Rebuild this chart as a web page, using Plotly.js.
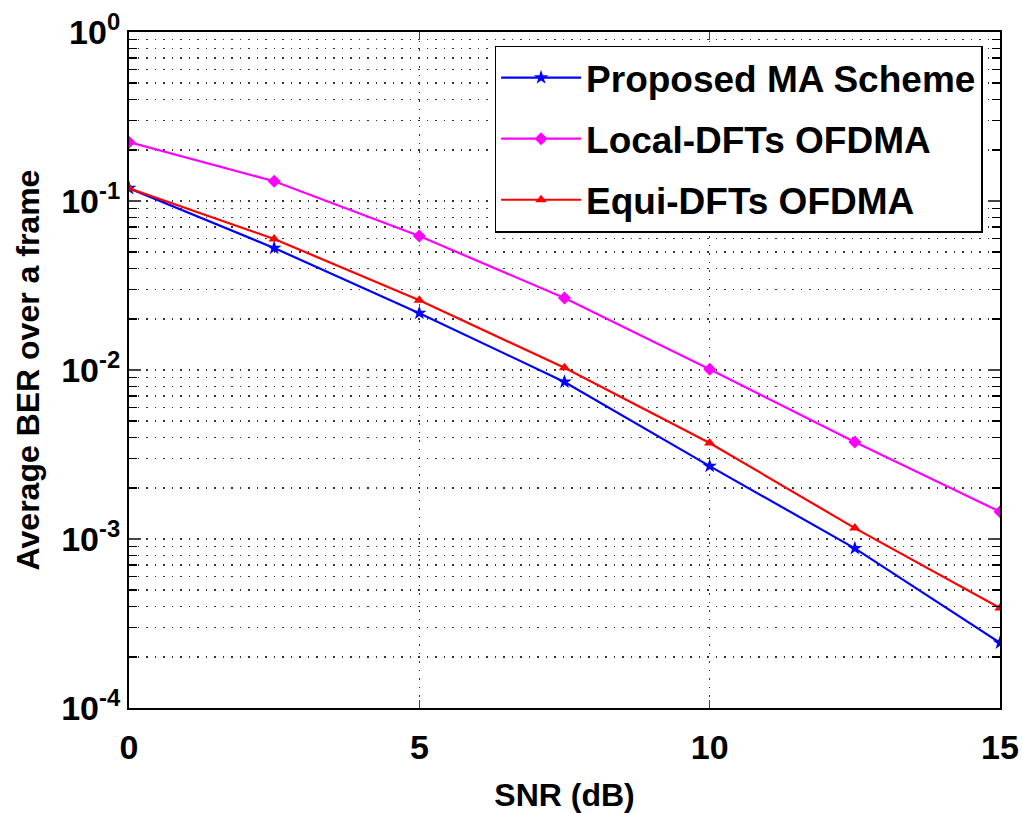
<!DOCTYPE html>
<html>
<head>
<meta charset="utf-8">
<script src="https://cdn.plot.ly/plotly-3.0.1.min.js"></script>
<style>html,body{margin:0;padding:0;background:#fff;}#chart{width:1022px;height:813px;}</style>
</head>
<body>
<div id="chart"></div>
<script>
const snr = [0, 2.5, 5, 7.5, 10, 12.5, 15];
const proposedMA = [0.119, 0.0527, 0.0217, 0.0085, 0.0027, 0.00088, 0.000243];
const localDFT = [0.223, 0.131, 0.062, 0.0267, 0.0101, 0.00375, 0.00145];
const equiDFT = [0.119, 0.0596, 0.0259, 0.0103, 0.0037, 0.00116, 0.00039];
const seriesNames = ['Proposed MA Scheme', 'Local-DFTs OFDMA', 'Equi-DFTs OFDMA'];
const yTickVals = [1e-4, 1e-3, 1e-2, 1e-1, 1];
const yTickText = ['10<sup>-4</sup>', '10<sup>-3</sup>', '10<sup>-2</sup>', '10<sup>-1</sup>', '10<sup>0</sup>'];
const xTickVals = [0, 5, 10, 15];

const font = 'Liberation Sans, Arial, sans-serif';
const traces = [
  {x: snr, y: proposedMA, name: seriesNames[0], legendgroup: 'a', mode: 'lines+markers',
   line: {color: '#0000ff', width: 2.2}, marker: {symbol: 'star', size: 11, color: '#0000ff'}},
  {x: snr, y: localDFT, name: seriesNames[1], legendgroup: 'b', mode: 'lines+markers',
   line: {color: '#ff00ff', width: 2.2}, marker: {symbol: 'diamond', size: 10, color: '#ff00ff'}},
  {x: snr, y: equiDFT, name: seriesNames[2], legendgroup: 'c', mode: 'lines+markers',
   line: {color: '#ff0000', width: 2.2}, marker: {symbol: 'triangle-up', size: 10, color: '#ff0000'}}
];

const gridColor = '#333';
const layout = {
  width: 1022, height: 813,
  margin: {l: 129, r: 22, t: 32, b: 105},
  paper_bgcolor: '#fff', plot_bgcolor: '#fff',
  font: {family: font, color: '#000', size: 30, weight: 'bold'},
  showlegend: true,
  legend: {x: 0.98, y: 0.98, xanchor: 'right', yanchor: 'top',
    bgcolor: '#fff', bordercolor: '#000', borderwidth: 1.5, tracegroupgap: 10, itemwidth: 80,
    font: {family: font, size: 37, color: '#000', weight: 'bold'}},
  xaxis: {
    range: [0, 15], tickvals: xTickVals, ticks: 'inside', ticklen: 8, tickwidth: 1.5,
    showline: true, linecolor: '#000', linewidth: 2, mirror: 'allticks',
    showgrid: true, gridcolor: gridColor, griddash: '1.5px,7px', gridwidth: 1.5,
    zeroline: false, ticklabelstandoff: 8,
    tickfont: {family: font, size: 34, color: '#000', weight: 'bold'},
    title: {text: 'SNR (dB)', font: {family: font, size: 32, color: '#000', weight: 'bold'}, standoff: 20}
  },
  yaxis: {
    type: 'log', range: [-4, 0], tickvals: yTickVals, ticktext: yTickText,
    ticks: 'inside', ticklen: 12, tickwidth: 1.5,
    showline: true, linecolor: '#000', linewidth: 2, mirror: 'allticks',
    showgrid: true, gridcolor: gridColor, griddash: '1.5px,7px', gridwidth: 1.5,
    zeroline: false,
    minor: {dtick: 'D1', ticks: 'inside', ticklen: 8, tickwidth: 1.5, tickcolor: '#000', showgrid: true, gridcolor: gridColor, griddash: '1.5px,7px', gridwidth: 1.5},
    tickfont: {family: font, size: 34, color: '#000', weight: 'bold'},
    title: {text: 'Average BER over a frame', font: {family: font, size: 32, color: '#000', weight: 'bold'}, standoff: 12}
  }
};

Plotly.newPlot('chart', traces, layout, {displayModeBar: false, staticPlot: true});
</script>
</body>
</html>
